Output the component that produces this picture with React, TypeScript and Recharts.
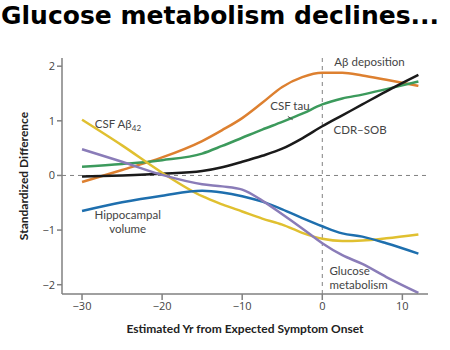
import {
  LineChart,
  Line,
  XAxis,
  YAxis,
  ReferenceLine,
  ReferenceDot,
} from "recharts";

// years relative to expected symptom onset
const years = [-30, -25, -20, -15, -12.5, -10, -7.5, -5, -2.5, 0, 2.5, 5, 8, 12];

const abDeposition = [-0.12, 0.1, 0.33, 0.63, 0.83, 1.05, 1.33, 1.62, 1.8, 1.88, 1.88, 1.83, 1.75, 1.64];
const csfTau = [0.16, 0.21, 0.28, 0.4, 0.54, 0.69, 0.84, 0.98, 1.13, 1.3, 1.41, 1.48, 1.58, 1.72];
const cdrSob = [-0.02, 0.0, 0.03, 0.08, 0.15, 0.25, 0.36, 0.49, 0.68, 0.9, 1.1, 1.3, 1.54, 1.84];
const csfAb42 = [1.02, 0.55, 0.05, -0.38, -0.53, -0.66, -0.79, -0.9, -1.05, -1.16, -1.2, -1.19, -1.15, -1.08];
const hippocampal = [-0.65, -0.49, -0.37, -0.28, -0.31, -0.38, -0.48, -0.62, -0.78, -0.93, -1.06, -1.12, -1.24, -1.43];
const glucose = [0.48, 0.25, 0.01, -0.16, -0.2, -0.26, -0.46, -0.71, -0.97, -1.24, -1.46, -1.62, -1.86, -2.15];

const xTicks = [-30, -20, -10, 0, 10];
const yTicks = [-2, -1, 0, 1, 2];

const data = years.map((yr, i) => ({
  yr,
  abDeposition: abDeposition[i],
  csfTau: csfTau[i],
  cdrSob: cdrSob[i],
  csfAb42: csfAb42[i],
  hippocampal: hippocampal[i],
  glucose: glucose[i],
}));

const FONT = "'Open Sans', sans-serif";
const LABEL_FONT = "Lato, sans-serif";
const TEXT = "#444";
const AXIS = "#808080";

const minus = (v: number) => (v < 0 ? "\u2212" + Math.abs(v) : String(v));

// series label placed at data coordinates; one <text> per line
function SeriesLabel(props: any) {
  const { viewBox, lines, anchor = "start", sub } = props;
  const x = viewBox.x;
  const y = viewBox.y;
  return (
    <g>
      {lines.map((l: string, i: number) => (
        <text key={i} x={x} y={y + i * 14} fill={TEXT} fontSize={11.5} fontFamily={LABEL_FONT} textAnchor={anchor}>
          {l}
          {sub && i === 0 ? <tspan fontSize={8} dy={3}>{sub}</tspan> : null}
        </text>
      ))}
    </g>
  );
}

export default function App() {
  return (
    <div style={{ position: "absolute", left: 0, top: 0, width: 450, height: 350, background: "#fff" }}>
      <div
        style={{
          position: "absolute",
          left: 1,
          top: 1,
          fontFamily: "'DejaVu Sans', sans-serif",
          fontWeight: "bold",
          fontSize: 25,
          color: "#000",
          whiteSpace: "nowrap",
        }}
      >
        Glucose metabolism declines...
      </div>
      <LineChart
        width={450}
        height={350}
        data={data}
        margin={{ top: 58, right: 22, bottom: 26, left: 22 }}
      >
        <XAxis
          dataKey="yr"
          type="number"
          domain={[-32.5, 13.2]}
          ticks={xTicks}
          allowDataOverflow
          height={30}
          tickFormatter={minus}
          stroke={AXIS}
          strokeWidth={1.5}
          tickSize={6}
          tick={{ fill: TEXT, fontSize: 11, fontFamily: FONT }}
          label={{
            value: "Estimated Yr from Expected Symptom Onset",
            position: "insideBottom",
            offset: -9,
            fill: "#222",
            fontSize: 12,
            fontWeight: "bold",
            fontFamily: LABEL_FONT,
          }}
        />
        <YAxis
          type="number"
          domain={[-2.17, 2.15]}
          ticks={yTicks}
          allowDataOverflow
          width={40}
          tickFormatter={minus}
          stroke={AXIS}
          strokeWidth={1.5}
          tickSize={5}
          tick={{ fill: TEXT, fontSize: 11, fontFamily: FONT }}
          label={{
            value: "Standardized Difference",
            angle: -90,
            position: "insideLeft",
            offset: 2,
            style: { textAnchor: "middle" },
            fill: "#222",
            fontSize: 12,
            fontWeight: "bold",
            fontFamily: LABEL_FONT,
          }}
        />
        <ReferenceLine y={0} stroke={AXIS} strokeDasharray="4 4" strokeWidth={1} />
        <ReferenceLine x={0} stroke={AXIS} strokeDasharray="4 4" strokeWidth={1} />

        <Line type="monotone" dataKey="abDeposition" stroke="#dd8030" strokeWidth={2.5} dot={false} isAnimationActive={false} />
        <Line type="monotone" dataKey="csfTau" stroke="#3c9a5c" strokeWidth={2.5} dot={false} isAnimationActive={false} />
        <Line type="monotone" dataKey="cdrSob" stroke="#1a1a1a" strokeWidth={2.5} dot={false} isAnimationActive={false} />
        <Line type="monotone" dataKey="csfAb42" stroke="#e0c030" strokeWidth={2.5} dot={false} isAnimationActive={false} />
        <Line type="monotone" dataKey="hippocampal" stroke="#1e6fae" strokeWidth={2.5} dot={false} isAnimationActive={false} />
        <Line type="monotone" dataKey="glucose" stroke="#8a7cb8" strokeWidth={2.5} dot={false} isAnimationActive={false} />

        <ReferenceDot x={1.5} y={2.0} r={0} label={<SeriesLabel lines={["A\u03b2 deposition"]} />} />
        <ReferenceDot x={-6.5} y={1.19} r={0} label={<SeriesLabel lines={["CSF tau"]} />} />
        <ReferenceLine segment={[{ x: -4.3, y: 1.08 }, { x: -3.7, y: 1.02 }]} stroke={TEXT} strokeWidth={1} />
        <ReferenceDot x={1.4} y={0.76} r={0} label={<SeriesLabel lines={["CDR\u2013SOB"]} />} />
        <ReferenceDot x={-28.4} y={0.87} r={0} label={<SeriesLabel lines={["CSF A\u03b2"]} sub="42" />} />
        <ReferenceDot x={-24.3} y={-0.79} r={0} label={<SeriesLabel lines={["Hippocampal", "volume"]} anchor="middle" />} />
        <ReferenceDot x={0.9} y={-1.83} r={0} label={<SeriesLabel lines={["Glucose", "metabolism"]} />} />
      </LineChart>
    </div>
  );
}
